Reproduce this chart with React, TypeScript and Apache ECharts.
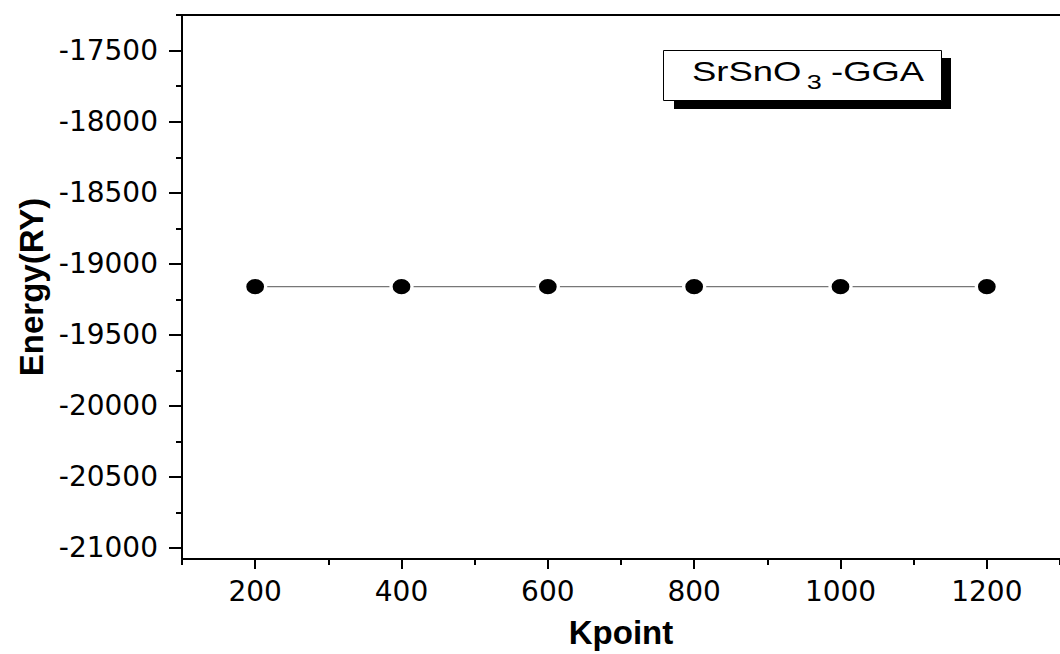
import React, { useEffect, useRef } from "react";
import * as echarts from "echarts";

const kpoints = [200, 400, 600, 800, 1000, 1200];
const energies = [-19163, -19163, -19163, -19163, -19163, -19163];
const xMajorTicks = [200, 400, 600, 800, 1000, 1200];
const xMinorTicks = [100, 300, 500, 700, 900, 1100, 1300];
const yMajorTicks = [-21000, -20500, -20000, -19500, -19000, -18500, -18000, -17500];
const yMinorTicks = [-20750, -20250, -19750, -19250, -18750, -18250, -17750, -17250];
const xRange = [100, 1300];
const yRange = [-21080, -17250];

const TICK_FONT = "DejaVu Sans";
const NAME_FONT = "Liberation Sans, Arial, sans-serif";
const ELLIPSE = "path://M0 10A10 10 0 1 1 20 10A10 10 0 1 1 0 10Z";
const plain = (v: number) => String(v);

export default function App() {
  const ref = useRef<HTMLDivElement>(null);
  useEffect(() => {
    if (!ref.current) return;
    const chart = echarts.init(ref.current, undefined, { renderer: "svg" });
    const gridBox = { left: 182, top: 15, right: -10, bottom: 94 };
    chart.setOption({
      animation: false,
      backgroundColor: "#fff",
      grid: [gridBox, gridBox],
      xAxis: [
        {
          type: "value",
          gridIndex: 0,
          position: "bottom",
          min: xRange[0],
          max: xRange[1],
          name: "Kpoint",
          nameLocation: "middle",
          nameGap: 57,
          nameTextStyle: { fontFamily: NAME_FONT, fontWeight: "bold", fontSize: 33, color: "#000" },
          axisLine: { show: true, lineStyle: { color: "#000", width: 2 } },
          axisTick: { show: true, length: 10, customValues: xMajorTicks, lineStyle: { color: "#000", width: 2 } },
          axisLabel: { show: true, customValues: xMajorTicks, formatter: plain, margin: 18, fontFamily: TICK_FONT, fontSize: 28, color: "#000" },
          splitLine: { show: false },
        },
        {
          type: "value",
          gridIndex: 0,
          position: "top",
          min: xRange[0],
          max: xRange[1],
          axisLine: { show: true, lineStyle: { color: "#000", width: 2 } },
          axisTick: { show: false },
          axisLabel: { show: false },
          splitLine: { show: false },
        },
        {
          type: "value",
          gridIndex: 1,
          position: "bottom",
          min: xRange[0],
          max: xRange[1],
          axisLine: { show: false },
          axisTick: { show: true, length: 5, customValues: xMinorTicks, lineStyle: { color: "#000", width: 2 } },
          axisLabel: { show: false },
          splitLine: { show: false },
        },
      ],
      yAxis: [
        {
          type: "value",
          gridIndex: 0,
          position: "left",
          min: yRange[0],
          max: yRange[1],
          name: "Energy(RY)",
          nameLocation: "middle",
          nameGap: 132,
          nameTextStyle: { fontFamily: NAME_FONT, fontWeight: "bold", fontSize: 33, color: "#000" },
          axisLine: { show: true, lineStyle: { color: "#000", width: 2 } },
          axisTick: { show: true, length: 13, customValues: yMajorTicks, lineStyle: { color: "#000", width: 2 } },
          axisLabel: { show: true, customValues: yMajorTicks, formatter: plain, margin: 24, fontFamily: TICK_FONT, fontSize: 28, color: "#000" },
          splitLine: { show: false },
        },
        {
          type: "value",
          gridIndex: 1,
          position: "left",
          min: yRange[0],
          max: yRange[1],
          axisLine: { show: false },
          axisTick: { show: true, length: 6, customValues: yMinorTicks, lineStyle: { color: "#000", width: 2 } },
          axisLabel: { show: false },
          splitLine: { show: false },
        },
      ],
      series: [
        {
          type: "line",
          xAxisIndex: 0,
          yAxisIndex: 0,
          data: kpoints.map((k, i) => [k, energies[i]]),
          symbol: ELLIPSE,
          symbolKeepAspect: false,
          symbolSize: [21, 18],
          showSymbol: true,
          lineStyle: { color: "#777", width: 1.2 },
          itemStyle: { color: "#000", borderColor: "#fff", borderWidth: 3 },
          z: 3,
        },
      ],
      graphic: [
        { type: "rect", shape: { x: 674, y: 58, width: 277, height: 51 }, style: { fill: "#000" }, z: 10 },
        { type: "rect", shape: { x: 663.5, y: 50.5, width: 278, height: 50 }, style: { fill: "#fff", stroke: "#000", lineWidth: 1 }, z: 11 },
        {
          type: "group",
          x: 692,
          y: 0,
          scaleX: 1.35,
          z: 12,
          children: [
            { type: "text", x: 0, y: 72, z: 12, style: { text: "SrSnO", fontFamily: NAME_FONT, fontSize: 27, fill: "#000", align: "left", verticalAlign: "middle" } },
            { type: "text", x: 85, y: 82, z: 12, style: { text: "3", fontFamily: NAME_FONT, fontSize: 20, fill: "#000", align: "left", verticalAlign: "middle" } },
            { type: "text", x: 103, y: 72, z: 12, style: { text: "-GGA", fontFamily: NAME_FONT, fontSize: 27, fill: "#000", align: "left", verticalAlign: "middle" } },
          ],
        },
      ],
    });
    return () => chart.dispose();
  }, []);
  return <div ref={ref} style={{ position: "absolute", left: 0, top: 0, width: 1060, height: 654 }} />;
}
